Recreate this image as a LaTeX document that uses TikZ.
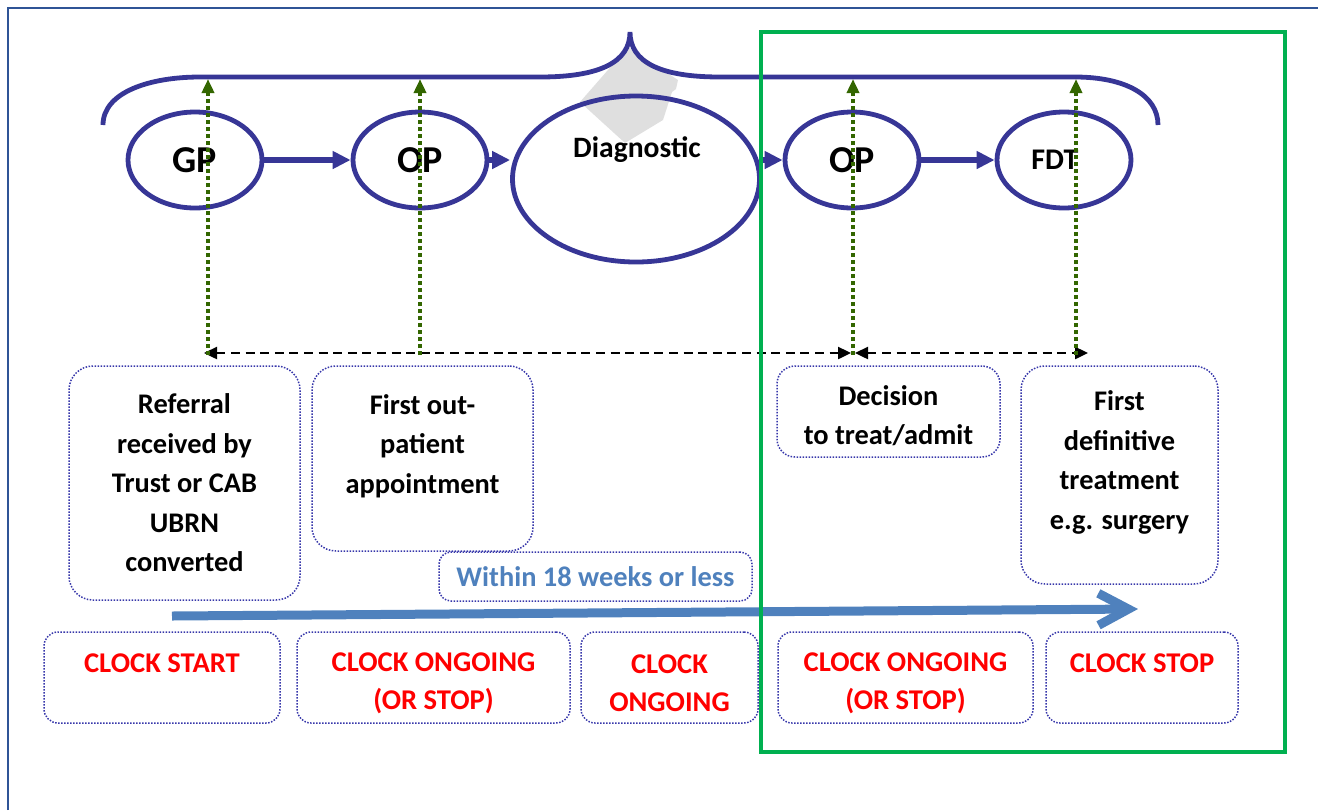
\documentclass[tikz,border=0pt]{standalone}
\usepackage{fontspec}
\setmainfont{Carlito}
\usepackage{tikz}
\usetikzlibrary{arrows.meta,shapes.geometric}
\definecolor{ovalblue}{RGB}{55,54,150}
\definecolor{tickgreen}{RGB}{51,102,0}
\definecolor{boxblue}{RGB}{55,55,170}
\definecolor{weekblue}{RGB}{79,129,189}
\definecolor{framegreen}{RGB}{0,176,80}
\definecolor{pageblue}{RGB}{47,84,150}
\newcommand{\ovalcolor}{ovalblue}
\newcommand{\thickness}{2.4pt}

\begin{document}
\begin{tikzpicture}[x=0.5pt,y=-0.5pt,
  oval/.style={draw=\ovalcolor,line width=\thickness,ellipse,inner sep=0pt,font=\bfseries\fontsize{19}{20}\selectfont},
  flow/.style={draw=\ovalcolor,line width=2.6pt,-{Triangle[length=9pt,width=8.5pt]}},
  tick/.style={draw=tickgreen,line width=1.8pt,dash pattern=on 2pt off 1.5pt,-{Triangle[length=7pt,width=6pt]}},
  span/.style={draw=black,line width=1.2pt,dash pattern=on 4.5pt off 2.8pt,{Triangle[length=6.5pt,width=6pt]}-{Triangle[length=6.5pt,width=6pt]}},
  event/.style={draw=boxblue,line width=0.75pt,dash pattern=on 0.75pt off 0.75pt,rounded corners=12pt,align=center,inner sep=0pt,font=\bfseries\fontsize{14.2}{19.75}\selectfont},
  clock/.style={event,rounded corners=7pt,text=red,font=\bfseries\fontsize{14.3}{19}\selectfont}]
\useasboundingbox (0,0) rectangle (1318,810);
%page
\draw[pageblue,line width=1.3pt] (8,810) -- (8,8) -- (1318,8);
\fill[gray!25] (580,102) -- (628,47) -- (678,80) -- (676,89) -- (672,92) -- (663,120) -- (625,143) -- cycle;
%brace
\draw[\ovalcolor,line width=\thickness] (103,125) .. controls (103,92) and (150,77) .. (200,77) -- (540,77)
  .. controls (600,77) and (630,62) .. (630,32) .. controls (630,62) and (660,77) .. (720,77)
  -- (1075,77) .. controls (1125,77) and (1158,95) .. (1158,125);
%pathway
\node[oval,minimum width=67pt,minimum height=48pt] (gp) at (195,160) {GP};
\node[oval,minimum width=67pt,minimum height=48pt] (op1) at (420,160) {OP};
\node[oval,minimum width=123.5pt,minimum height=83pt] (diag) at (636,179) {};
\node[font=\bfseries\fontsize{14.8}{16}\selectfont] (diagtext) at (637,150) {Diagnostic};
\node[oval,minimum width=67pt,minimum height=48pt] (op2) at (852,160) {OP};
\node[oval,minimum width=67pt,minimum height=48pt,font=\bfseries\fontsize{15}{16}\selectfont] (fdt) at (1064,160) {\hspace*{-9pt}FDT};
\draw[flow] (gp) -- (op1);
\draw[flow] (op1.east) -- (diag.west |- op1.east);
\draw[flow] (diag.east |- op2.west) -- (op2.west);
\draw[flow] (op2) -- (fdt);
%events
\node[event,minimum width=115.5pt,minimum height=117pt] (referral) at (184.5,483) {Referral\\received by\\Trust or CAB\\UBRN\\converted};
\node[event,minimum width=110.5pt,minimum height=92.5pt] (firstop) at (422.5,458.5) {First out-\\patient\\appointment\\[-5pt]\mbox{}};
\node[event,minimum width=111.5pt,minimum height=45.5pt,rounded corners=9pt] (decision) at (888.5,411.5) {\mbox{}\\[-5.5pt]Decision\\to treat/admit};
\node[event,minimum width=98.5pt,minimum height=109pt] (firsttreat) at (1119.5,475) {First\\definitive\\treatment\\e.g. surgery\\[-5pt]\mbox{}};
\node[event,minimum width=156.5pt,minimum height=24.5pt,rounded corners=6pt,text=weekblue] (within) at (595.5,576.5) {Within 18 weeks or less};
%clocks
\node[clock,minimum width=118pt,minimum height=45.5pt] (start) at (162,677.5) {CLOCK START\\[-5pt]\mbox{}};
\node[clock,minimum width=136.5pt,minimum height=45.5pt] (ongoing1) at (433.5,677.5) {\mbox{}\\[-3.5pt]CLOCK ONGOING\\(OR STOP)};
\node[clock,minimum width=88.5pt,minimum height=45.5pt] (ongoing2) at (669.5,677.5) {\mbox{}\\[-3.5pt]CLOCK\\ONGOING};
\node[clock,minimum width=127.5pt,minimum height=45.5pt] (ongoing3) at (905.5,677.5) {\mbox{}\\[-3.5pt]CLOCK ONGOING\\(OR STOP)};
\node[clock,minimum width=96pt,minimum height=45.5pt] (stop) at (1142,677.5) {CLOCK STOP\\[-5pt]\mbox{}};
%marks
\coordinate (gpbase) at (208,355);
\coordinate (gptop) at (208,79);
\coordinate (opbase) at (420,355);
\coordinate (optop) at (420,79);
\coordinate (dtabase) at (853,355);
\coordinate (dtatop) at (853,79);
\coordinate (fdtbase) at (1076,355);
\coordinate (fdttop) at (1076,79);
\coordinate (spana) at (204,353);
\coordinate (spanb) at (851,353);
\coordinate (spanc) at (855,353);
\coordinate (spand) at (1088,353);
\draw[span] (spana) -- (spanb);
\draw[span] (spanc) -- (spand);
\draw[tick] (gpbase) -- (gptop);
\draw[tick] (opbase) -- (optop);
\draw[tick] (dtabase) -- (dtatop);
\draw[tick] (fdtbase) -- (fdttop);
%18 weeks
\coordinate (clockfrom) at (172,616);
\coordinate (clockto) at (1138,609);
\draw[weekblue,line width=4.5pt,-{Straight Barb[length=15pt,width=16pt]}] (clockfrom) -- (clockto);
%admitted part
\draw[framegreen,line width=\thickness] (761,32) rectangle (1285,752);
\end{tikzpicture}
\end{document}
